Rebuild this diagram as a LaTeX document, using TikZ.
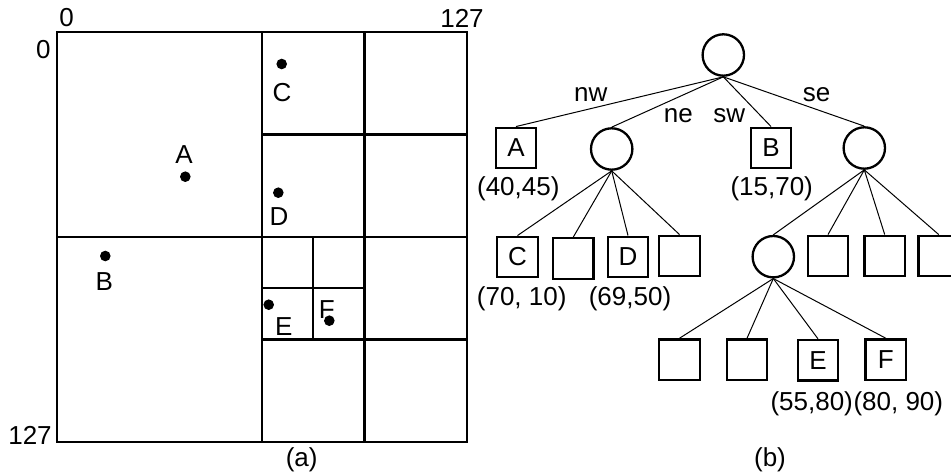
\documentclass[tikz,border=0pt]{standalone}
\usepackage{fontspec}
\setmainfont{Liberation Sans}
\usepackage{xcolor}
\usepackage{tikz}
\usetikzlibrary{calc}
\tikzset{
  lbl/.style={font=\fontsize{13}{15}\selectfont, inner sep=0pt},
  leafbox/.style={draw, line width=1.15pt, minimum size=20.3pt, inner sep=0pt, font=\fontsize{13}{15}\selectfont},
  innode/.style={draw, circle, line width=1.15pt, minimum size=20.7pt, inner sep=0pt},
  tedge/.style={line width=0.5pt},
  gridln/.style={line width=1.2pt},
}

\begin{document}
\begin{tikzpicture}[x=0.5pt, y=-0.5pt]
    \clip (0,0) rectangle (951,475);
    % (a) cuadrantes
    \draw[gridln] (57,32) rectangle (467,442);
    \draw[gridln] (262,32)--(262,442);
    \draw[gridln] (57,237)--(467,237);
    \draw[gridln] (364.5,32)--(364.5,442);
    \draw[gridln] (262,134.5)--(467,134.5);
    \draw[gridln] (262,339.5)--(467,339.5);
    \draw[gridln] (313.25,237)--(313.25,339.5);
    \draw[gridln] (262,288.25)--(364.5,288.25);
    \node[lbl] (x0) at (66.7,18){0};
    \node[lbl] (x127) at (462,18){127};
    \node[lbl] (y0) at (43.3,50){0};
    \node[lbl] (y127) at (30,435){127};
    % puntos
    \fill (185.3,176.7) circle (2.65pt);
    \node[lbl] (pA) at (184,155){A};
    \fill (281.7,64) circle (2.65pt);
    \node[lbl] (pC) at (282,92.7){C};
    \fill (278.3,192.7) circle (2.65pt);
    \node[lbl] (pD) at (279,216.7){D};
    \fill (105.3,256) circle (2.65pt);
    \node[lbl] (pB) at (104.3,281.7){B};
    \fill (268.7,304.7) circle (2.65pt);
    \node[lbl] (pE) at (283.7,326.7){E};
    \fill (329.3,320.7) circle (2.65pt);
    \node[lbl] (pF) at (326.7,310){F};
    \node[lbl] (capa) at (301.7,460){(a)};
    % (b) arbol
    \node[innode] (root) at (723.3,55){};
    \node[leafbox] (tA) at (516,148){A};
    \node[innode] (tne) at (611.7,149){};
    \node[leafbox] (tB) at (771,148){B};
    \node[innode] (tse) at (864.3,148){};
    \foreach \c in {tA,tne,tB,tse} \draw[tedge] (root.south)--(\c.north);
    \node[lbl] (enw) at (590.7,95){nw};
    \node[lbl] (ene) at (678.3,116){ne};
    \node[lbl] (esw) at (729.3,116){sw};
    \node[lbl] (ese) at (816.7,95){se};
    \node[lbl] (cA) at (518.3,188.3){(40,45)};
    \node[lbl] (cB) at (771.7,188.3){(15,70)};
    % hijos de ne
    \node[leafbox] (tC) at (517.5,257){C};
    \node[leafbox] (tn2) at (573.3,258.5){};
    \node[leafbox] (tD) at (628,257){D};
    \node[leafbox] (tn4) at (679.5,256){};
    \foreach \c in {tC,tn2,tD,tn4} \draw[tedge] (tne.south)--(\c.north);
    \node[lbl] (cC) at (521.7,298.3){(70, 10)};
    \node[lbl] (cD) at (630,298.3){(69,50)};
    % hijos de se
    \node[innode] (tsen) at (773.3,256.7){};
    \node[leafbox] (ts2) at (828,256){};
    \node[leafbox] (ts3) at (884.7,256){};
    \node[leafbox] (ts4) at (938.7,256){};
    \foreach \c in {tsen,ts2,ts3,ts4} \draw[tedge] (tse.south)--(\c.north);
    % hijos de se-nw
    \node[leafbox] (tl1) at (679.5,359.7){};
    \node[leafbox] (tl2) at (747,359.7){};
    \node[leafbox] (tE) at (818,360.3){E};
    \node[leafbox] (tF) at (885.8,359.7){F};
    \foreach \c in {tl1,tl2,tE,tF} \draw[tedge] (tsen.south)--(\c.north);
    \node[lbl] (cE) at (811.7,403.3){(55,80)};
    \node[lbl] (cF) at (898.3,403.3){(80, 90)};
    \node[lbl] (capb) at (770,460){(b)};
\end{tikzpicture}
\end{document}
